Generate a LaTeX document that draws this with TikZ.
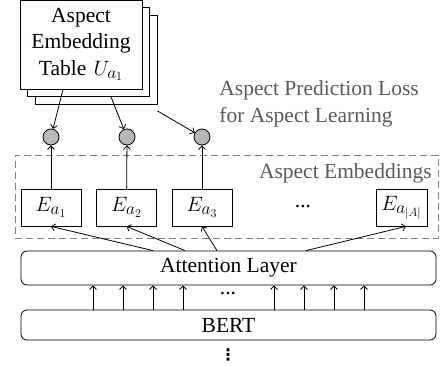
\documentclass[tikz,border=0pt]{standalone}
\usepackage{fontspec}
\setmainfont{Liberation Serif}
\newfontfamily\dvsans{DejaVu Sans}
\usetikzlibrary{arrows.meta}
\DeclareMathSizes{21.5}{22}{16.5}{13}
\begin{document}
\begin{tikzpicture}[x=1pt,y=-1pt,line width=0.8pt,
  font=\fontsize{21.5}{26.5}\selectfont,
  tbl/.style={draw,fill=white,inner sep=0pt,minimum width=122pt,minimum height=89pt},
  ebox/.style={draw,inner sep=0pt,minimum width=60pt,minimum height=37pt},
  layer/.style={draw,rounded corners=6pt,inner sep=0pt,minimum width=415pt},
  dot/.style={circle,draw,fill=black!28,inner sep=0pt,minimum size=16pt},
  note/.style={text=black!65,inner sep=0pt},
  conn/.style={-{Straight Barb[length=3.5pt,width=7pt]}}]
\useasboundingbox (0,0) rectangle (446,366);
% dashed group
\node[draw=black!50,dashed,dash pattern=on 7pt off 4pt,line width=0.9pt,
  minimum width=423pt,minimum height=83pt,inner sep=0pt] (grp) at (226.5,196.5) {};
\node[note,anchor=east] (grplabel) at (432,173) {Aspect Embeddings};
% stacked tables
\node[tbl] (tab3) at (96,60) {};
\node[tbl] (tab2) at (88.5,52) {};
\node[tbl,text width=122pt,align=center] (tab) at (81,44.5) {Aspect\\Embedding\\Table $U_{a_1}$};
\node[note,anchor=west,align=left] (loss) at (219,104) {Aspect Prediction Loss\\for Aspect Learning};
% circles
\node[dot] (c1) at (51,137) {};
\node[dot] (c2) at (127,137) {};
\node[dot] (c3) at (202,137) {};
% embeddings
\node[ebox] (e1) at (51,207.5) {$E_{a_1}$};
\node[ebox] (e2) at (126.5,207.5) {$E_{a_2}$};
\node[ebox] (e3) at (202,207.5) {$E_{a_3}$};
\node[inner sep=0pt] (edots) at (303,207) {...};
\node[ebox,minimum width=51pt] (eA) at (401.5,207.5) {$E_{a_{|A|}}$};
% layers
\node[layer,minimum height=34pt] (att) at (228.5,268) {Attention Layer};
\node[layer,minimum height=30pt] (bert) at (228.5,325) {BERT};
\node[inner sep=0pt] (adots) at (228,294) {...};
\node[inner sep=0pt,font=\dvsans\bfseries\fontsize{16}{16}\selectfont] (vdots) at (228,355) {⋮};
% connectors table -> circles
\draw[conn] ([xshift=-18pt]tab.south) -- (c1);
\draw[conn] ([xshift=22.5pt]tab2.south) -- (c2);
\draw[conn] ([yshift=-6pt]tab3.south east) -- (c3);
% embeddings -> circles
\draw[conn] (e1) -- (c1);
\draw[conn] (e2) -- (c2);
\draw[conn] (e3) -- (c3);
% attention -> embeddings
\draw[conn] ([xshift=-75.5pt]att.north) -- (e1.south);
\draw[conn] ([xshift=-43.5pt]att.north) -- (e2.south);
\draw[conn] ([xshift=-11.5pt]att.north) -- (e3.south);
\draw[conn] ([xshift=77.5pt]att.north) -- ([xshift=4.5pt]eA.south);
% bert -> attention
\foreach \dx in {-135.5,-105.5,-75.5,-45.5,45.5,75.5,105.5,135.5}
  \draw[conn] ([xshift=\dx pt]bert.north) -- ([xshift=\dx pt]att.south);
\end{tikzpicture}
\end{document}
